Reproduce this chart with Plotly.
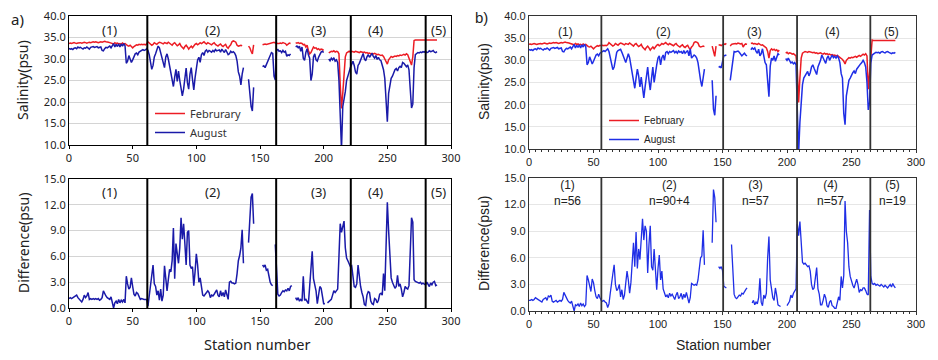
import plotly.graph_objects as go

N = None

# ---------------- panel a) ----------------
feb_a = [
    33.6,33.7,33.6,33.7,33.8,33.7,33.6,33.7,33.8,33.8,
    33.7,33.8,33.9,33.8,33.7,33.8,33.9,33.8,33.9,34.0,
    33.9,34.0,33.9,33.8,33.9,34.0,33.9,34.0,34.1,34.0,
    34.0,33.9,33.8,33.7,33.6,33.5,33.8,33.6,33.7,33.5,
    33.6,33.4,33.7,33.5,33.6,33.3,33.1,33.0,33.2,32.9,
    32.6,32.9,33.2,33.3,33.2,33.4,33.3,33.4,33.3,33.4,
    33.3,33.5,34.0,33.8,33.5,33.2,33.4,33.8,33.6,33.4,
    33.7,33.9,33.8,33.6,33.5,33.8,33.7,33.6,33.9,33.7,
    33.5,33.2,33.6,33.8,33.4,33.1,33.3,33.6,33.0,32.6,
    32.4,32.9,33.2,32.8,32.3,32.7,33.0,32.6,33.1,33.4,
    33.6,33.3,33.5,33.8,33.6,33.9,34.0,33.7,33.5,33.8,
    33.6,33.5,33.3,33.6,33.8,33.4,33.2,33.0,33.3,33.5,
    33.1,32.9,33.2,33.4,32.8,32.5,33.0,33.3,34.0,34.2,
    34.1,33.9,33.2,33.0,33.1,33.2,33.1,N,N,N,
    N,33.0,32.6,31.8,31.2,33.3,N,N,N,N,
    N,N,33.3,33.4,33.5,33.4,33.5,33.6,33.7,33.8,
    33.8,33.9,33.7,33.6,33.6,33.6,33.7,33.6,33.8,33.7,
    33.6,33.2,33.5,33.7,33.6,N,N,N,33.8,33.7,
    33.8,33.6,33.7,33.6,33.3,33.4,32.8,33.2,32.0,31.2,
    31.5,32.4,32.8,32.5,32.6,32.2,32.4,32.1,32.3,32.2,
    32.0,N,N,N,31.4,31.6,31.8,31.7,31.9,31.6,
    31.8,31.7,31.2,24.0,18.5,22.0,27.5,30.5,31.4,31.7,
    31.8,31.6,31.8,31.7,31.6,31.8,31.7,31.6,31.5,31.7,
    31.6,31.5,31.6,31.4,31.5,31.3,31.4,31.2,31.3,31.2,
    31.3,31.1,31.0,31.1,31.0,30.8,30.9,30.6,30.0,29.5,
    28.8,29.8,30.3,30.6,30.4,30.5,30.7,30.6,30.8,30.7,
    30.9,30.8,31.0,31.1,30.9,31.2,31.0,30.2,29.0,28.6,
    30.5,34.3,34.4,34.4,34.4,34.4,34.4,34.4,34.4,34.4,
    34.4,34.4,34.4,34.4,34.4,34.4,34.4,34.4,34.4,34.4,
]
aug_a = [
    32.5,32.3,32.4,32.2,32.5,32.6,32.4,32.8,32.6,32.7,
    32.5,32.3,32.6,32.5,32.8,32.6,32.3,32.7,32.8,32.9,
    32.7,32.8,32.9,32.6,32.7,32.8,32.0,31.9,32.4,32.7,
    32.6,32.9,33.0,32.6,33.2,33.6,32.8,33.4,32.9,33.5,
    32.8,33.5,33.0,33.6,33.1,29.0,29.5,30.8,30.0,29.2,
    29.8,30.6,31.2,31.4,31.0,31.6,31.8,31.9,32.2,32.0,
    32.1,32.4,32.0,31.0,29.5,27.6,28.5,30.5,31.2,32.0,
    33.0,32.6,31.5,30.4,29.0,28.0,30.5,31.2,30.0,28.2,
    27.0,25.5,23.6,25.8,27.6,24.8,27.2,25.0,22.5,21.4,
    23.0,25.8,27.9,24.5,23.0,26.5,28.0,25.2,22.8,25.6,
    28.5,29.8,30.4,29.2,31.0,31.5,30.8,31.8,32.1,31.6,
    32.0,31.8,31.6,32.0,31.7,32.2,31.9,32.0,32.1,31.6,
    32.3,31.9,31.5,32.2,31.4,31.0,31.2,31.8,31.5,31.7,
    31.4,30.8,29.5,27.0,26.0,24.0,26.5,28.0,N,N,
    N,25.3,22.5,19.0,17.9,23.4,N,N,N,N,
    N,N,28.2,28.4,28.0,28.8,29.4,30.2,31.2,31.5,
    31.3,26.0,25.1,32.0,32.2,31.8,31.9,31.5,32.0,31.6,
    31.8,30.6,31.0,30.8,31.2,N,N,N,32.8,33.0,
    32.6,33.0,31.8,32.8,30.2,29.7,31.5,32.4,31.0,30.2,
    25.0,26.5,30.5,31.2,29.8,29.5,30.4,31.0,31.6,31.8,
    31.5,N,N,N,30.0,29.6,30.2,29.8,30.3,29.5,
    29.8,29.2,25.0,18.0,9.0,18.9,20.5,22.4,25.0,26.3,
    27.0,28.0,29.0,29.5,28.5,27.0,26.5,28.5,29.0,29.8,
    30.2,31.3,30.0,29.6,30.5,31.0,30.4,30.8,31.3,30.6,
    30.2,30.8,29.9,30.4,29.8,29.6,28.5,27.5,25.5,21.0,
    15.4,22.0,24.0,25.5,26.0,27.0,27.5,27.8,27.2,28.0,
    28.3,28.0,29.2,29.0,28.5,28.2,28.6,27.5,23.0,18.6,
    19.5,28.0,31.0,31.3,31.5,31.4,31.6,31.5,31.7,31.6,
    31.8,31.5,31.6,31.9,31.7,31.8,32.0,31.6,31.5,31.7,
]
diff_a = [
    1.1,1.2,1.1,1.2,1.3,1.4,1.5,1.2,1.0,0.9,
    0.7,1.0,1.5,1.2,1.4,1.8,1.0,1.1,1.0,1.1,
    1.0,1.1,1.0,1.1,0.9,1.0,1.2,2.0,1.6,1.4,
    1.2,1.1,1.0,1.3,0.5,0.0,0.6,0.8,0.5,1.0,
    0.6,0.9,0.7,1.0,0.6,3.7,2.8,2.2,2.4,3.5,
    2.5,1.6,1.4,1.8,1.7,1.2,1.0,1.1,1.0,1.0,
    1.0,1.0,0.2,1.5,3.0,4.3,5.0,2.8,2.5,1.5,
    2.0,0.9,2.2,0.8,1.5,4.9,3.5,2.0,3.3,4.5,
    4.2,5.5,9.3,3.4,7.5,6.0,5.2,7.0,10.5,8.0,
    9.8,7.5,5.0,8.8,9.0,5.0,4.6,4.8,2.6,4.2,
    6.3,5.0,3.0,3.5,2.2,1.5,1.4,1.6,1.8,2.0,
    1.8,1.2,1.5,1.4,1.6,1.8,2.1,1.5,1.3,2.0,
    1.4,1.8,1.3,2.1,1.6,1.0,3.0,3.1,2.9,2.9,
    2.8,2.9,4.0,5.5,6.1,7.0,9.1,5.2,N,N,
    N,7.6,10.0,12.9,13.3,9.8,N,N,N,N,
    N,N,5.0,4.8,5.0,4.4,4.5,3.5,3.0,2.7,
    2.6,N,7.4,4.0,1.6,1.4,1.5,1.8,2.0,1.9,
    2.1,2.0,2.3,2.0,2.5,2.6,N,N,1.2,0.9,
    1.2,0.8,1.0,0.8,3.7,0.9,1.0,0.7,0.5,2.5,
    4.5,6.6,3.4,2.7,2.0,0.5,1.5,2.5,2.3,1.2,
    0.5,0.5,N,0.6,0.7,0.9,1.0,1.5,2.0,1.8,
    2.0,2.2,6.0,9.8,8.8,9.6,10.1,7.0,5.8,5.5,
    5.2,4.8,4.9,3.8,2.5,2.4,2.8,5.0,3.5,2.5,
    1.8,1.3,0.4,0.3,1.5,1.9,1.8,0.8,0.5,0.4,
    1.1,1.0,0.6,0.9,1.6,1.7,1.5,4.0,2.0,7.0,
    12.3,9.0,6.0,3.5,3.0,2.6,2.3,2.5,3.8,2.5,
    2.8,2.2,1.3,1.8,2.5,2.3,2.2,2.6,7.0,10.5,
    10.0,3.3,3.1,3.0,3.0,2.9,3.0,2.8,2.9,2.8,
    2.7,3.0,2.8,2.5,2.9,2.7,3.0,3.1,2.6,2.7,
]
bounds_a = [61.5, 162.7, 221.3, 280.1]
region_x_a = [32, 113, 196, 241, 290]
region_labels_a = ["(1)", "(2)", "(3)", "(4)", "(5)"]

# ---------------- panel b) ----------------
feb_b = feb_a[:130] + [
    34.1,33.9,33.2,33.0,33.1,33.2,33.1,N,N,N,
    N,N,33.2,31.8,30.9,33.2,N,33.4,33.5,33.3,
    33.6,33.7,33.6,33.8,N,N,33.2,33.6,33.7,33.8,
    33.8,33.7,33.9,33.8,33.7,33.8,33.0,33.5,33.7,33.6,
    N,N,33.8,33.9,33.7,33.8,33.7,33.6,33.8,33.6,
    33.4,33.5,33.3,33.0,32.8,32.0,30.5,32.2,32.6,32.3,
    32.5,32.2,32.4,32.0,32.3,N,N,N,N,31.6,
    31.8,31.5,31.7,31.6,31.4,31.5,31.2,31.0,28.0,20.5,
    26.0,30.5,31.6,31.8,32.0,31.9,31.8,32.0,31.9,31.8,
    31.7,31.8,31.6,31.7,31.5,31.6,31.7,31.5,31.4,31.6,
    31.4,31.5,31.3,31.4,31.2,31.3,31.1,31.2,31.0,31.1,
    30.9,30.8,30.6,30.2,29.8,29.2,30.0,30.4,30.6,30.5,
    30.7,30.6,30.8,30.9,30.7,31.0,31.1,30.9,31.2,31.4,
    31.2,31.5,31.0,23.5,27.0,30.0,34.6,34.5,34.5,34.5,
    34.5,34.5,34.5,34.5,34.5,34.5,34.5,34.5,34.5,34.5,
    34.5,34.5,34.5,34.5,34.5,
]
aug_b = aug_a[:60] + [
    32.4,32.6,32.0,30.5,29.0,27.9,28.5,30.8,31.8,32.2,
    32.4,32.5,31.8,31.0,30.0,29.5,30.5,31.5,30.6,29.0,
    26.5,25.5,23.7,26.0,28.0,26.5,24.0,26.2,23.0,21.5,
    24.0,27.0,28.5,25.5,23.3,26.0,28.5,25.0,27.5,29.0,
    30.5,31.0,29.0,30.6,31.2,30.0,31.8,32.0,31.5,32.0,
    31.8,32.0,32.2,31.7,32.0,31.6,32.1,31.8,32.0,31.5,
    32.2,31.6,31.9,32.2,31.0,32.6,30.5,30.8,31.2,31.0,
    30.5,29.5,27.0,25.5,24.1,26.5,28.0,N,N,N,
    N,N,25.5,19.0,17.6,22.0,N,28.4,28.6,28.3,
    29.5,31.0,31.1,31.2,N,N,25.5,28.0,30.5,32.0,
    31.9,32.0,32.1,31.8,31.5,31.0,31.3,31.6,31.2,31.0,
    N,N,32.4,32.8,32.5,32.8,32.0,31.6,32.5,31.0,
    31.5,32.6,31.0,29.5,29.0,25.0,21.8,28.7,30.5,30.0,
    31.0,29.8,30.5,31.5,31.2,N,N,N,N,30.4,
    30.0,30.5,29.8,29.4,29.6,29.2,29.5,29.0,18.8,9.0,
    16.0,20.5,24.5,26.0,26.5,26.8,27.5,26.5,27.2,28.5,
    29.0,28.2,27.5,26.8,28.5,29.2,30.0,31.2,30.5,29.8,
    29.3,30.5,31.0,30.0,30.8,31.2,30.6,30.9,30.5,31.0,
    30.5,29.5,27.0,26.0,18.0,15.5,22.0,24.0,25.5,26.0,
    26.8,27.2,27.6,27.0,28.0,28.5,28.8,29.2,29.5,30.0,
    29.5,28.5,25.0,18.8,20.5,29.5,31.2,31.5,31.6,31.8,
    31.7,31.8,31.6,31.9,32.0,31.8,31.7,31.9,32.0,31.8,
    31.6,31.5,31.7,31.6,31.8,
]
diff_b = [
    1.2,1.2,1.3,1.2,1.3,1.5,1.4,1.3,1.2,1.1,
    1.0,1.3,1.4,1.5,1.2,1.7,1.6,1.8,1.1,1.0,
    1.1,1.2,1.0,1.1,1.2,1.1,1.3,2.1,1.8,1.4,
    1.2,1.0,0.9,1.1,0.6,0.0,0.7,0.6,0.8,0.5,
    0.9,0.6,0.8,0.5,0.7,4.0,3.5,2.6,2.2,3.6,
    3.2,2.3,1.6,1.4,1.9,1.5,1.2,1.1,1.2,1.0,
    0.9,0.4,0.8,2.0,3.5,4.2,5.2,3.0,2.3,2.5,
    3.0,1.6,2.4,1.3,1.8,3.0,4.5,3.5,2.0,3.2,
    5.5,7.7,5.0,8.9,4.8,7.0,5.8,8.0,10.4,8.0,
    9.6,9.0,4.3,7.5,9.6,5.0,4.6,7.0,4.0,2.4,
    4.8,6.3,3.5,4.5,2.5,1.9,1.6,1.8,1.5,2.0,
    1.7,1.9,1.5,1.3,1.8,2.1,1.4,1.6,2.0,1.3,
    1.9,1.5,2.1,1.4,0.9,1.5,3.1,3.0,2.9,3.0,
    2.9,3.5,5.0,6.0,6.2,9.1,5.2,N,N,N,
    N,N,7.7,13.7,12.8,10.0,N,5.0,4.8,5.0,
    4.6,2.8,2.7,2.6,N,N,N,7.5,3.9,1.9,
    1.5,1.4,1.6,1.8,1.7,2.0,1.9,2.2,2.4,2.6,
    N,N,N,0.9,1.2,0.7,1.0,0.8,1.5,3.7,
    1.0,0.6,1.8,1.4,2.0,6.0,8.4,3.5,2.5,1.5,
    1.2,2.6,1.8,0.7,0.6,0.5,N,N,N,N,
    0.6,0.9,1.1,1.8,1.5,2.0,2.2,2.5,9.8,8.5,
    10.1,7.0,5.5,5.3,5.4,5.2,5.0,5.1,4.5,3.0,
    2.4,2.6,3.5,4.9,2.5,1.9,0.7,0.7,1.2,1.9,
    1.5,0.6,0.4,1.0,1.2,0.6,0.5,0.3,0.3,1.0,
    1.6,1.2,3.9,2.6,4.0,12.4,9.0,7.7,5.0,3.9,
    3.3,2.9,2.6,3.0,3.6,3.0,2.1,2.4,2.3,2.6,
    2.6,2.3,1.9,1.8,11.4,3.9,3.1,3.0,3.1,2.9,
    3.0,2.9,2.8,3.0,2.9,2.7,2.9,2.8,2.6,2.8,
    3.0,2.7,3.1,2.8,2.6,
]
bounds_b = [56.1, 150.5, 207.8, 264.6]
region_x_b_top = [28, 104, 175, 235, 281]
region_x_b_bot = [29.5, 108.6, 175.6, 234, 282]
region_labels_b = ["(1)", "(2)", "(3)", "(4)", "(5)"]
region_n_b = ["n=56", "n=90+4", "n=57", "n=57", "n=19"]

RED = "#ec1c24"
BLUE_A = "#1a1aa8"
BLUE_B = "#1f2ee6"
FONT_A = "Noto Sans"
FONT_B = "Liberation Sans"

W, H = 938, 360
OFF = 8  # page body margin of the browser
def px_x(a, b): return [(a - OFF) / W, (b - OFF) / W]
def px_y(top, bot): return [1 - (bot - OFF) / H, 1 - (top - OFF) / H]

fig = go.Figure()
def st(arr): return list(range(len(arr)))

fig.add_trace(go.Scatter(x=st(feb_a), y=feb_a, mode="lines", name="Februrary",
                         line=dict(color=RED, width=1.5), xaxis="x", yaxis="y", legend="legend"))
fig.add_trace(go.Scatter(x=st(aug_a), y=aug_a, mode="lines", name="August",
                         line=dict(color=BLUE_A, width=1.5), xaxis="x", yaxis="y", legend="legend"))
fig.add_trace(go.Scatter(x=st(diff_a), y=diff_a, mode="lines", showlegend=False,
                         line=dict(color=BLUE_A, width=1.5), xaxis="x2", yaxis="y2"))
fig.add_trace(go.Scatter(x=st(feb_b), y=feb_b, mode="lines", name="February",
                         line=dict(color=RED, width=1.5), xaxis="x3", yaxis="y3", legend="legend2"))
fig.add_trace(go.Scatter(x=st(aug_b), y=aug_b, mode="lines", name="August",
                         line=dict(color=BLUE_B, width=1.5), xaxis="x3", yaxis="y3", legend="legend2"))
fig.add_trace(go.Scatter(x=st(diff_b), y=diff_b, mode="lines", showlegend=False,
                         line=dict(color=BLUE_B, width=1.3), xaxis="x4", yaxis="y4"))

def xax(dom, anchor, font, minor=False, lc="black"):
    d = dict(domain=dom, anchor=anchor, range=[0, 300], dtick=50, tickformat="d",
             showline=True, mirror=True, linecolor=lc, linewidth=1.2, automargin=False,
             ticks="outside", ticklen=3, tickcolor=lc, showgrid=False, zeroline=False,
             ticklabeloverflow="allow",
             tickfont=dict(family=font, size=11, color="#222"))
    if minor:
        d["minor"] = dict(dtick=5, ticks="outside", ticklen=2, tickcolor=lc)
    return d

def yax(dom, anchor, rng, dt, font, grid, lc="black"):
    return dict(domain=dom, anchor=anchor, range=rng, dtick=dt, tickformat=".1f",
                showline=True, mirror=True, linecolor=lc, linewidth=1.2, automargin=False,
                ticks="", showgrid=True, gridcolor=grid, gridwidth=1, zeroline=False,
                ticklabeloverflow="allow",
                tickfont=dict(family=font, size=11, color="#222"))

xa = px_x(69, 451); xb = px_x(529, 916)
fig.update_layout(
    width=W, height=H, margin=dict(l=0, r=0, t=0, b=0, autoexpand=False),
    paper_bgcolor="white", plot_bgcolor="white", showlegend=True,
    xaxis=xax(xa, "y", FONT_A),
    yaxis=yax(px_y(16, 145), "x", [10, 40], 5, FONT_A, "#d4d4d4"),
    xaxis2=xax(xa, "y2", FONT_A),
    yaxis2=yax(px_y(179, 308), "x2", [0, 15], 3, FONT_A, "#d4d4d4"),
    xaxis3=xax(xb, "y3", FONT_B, minor=True, lc="#333"),
    yaxis3=yax(px_y(16, 149), "x3", [10, 40], 5, FONT_B, "#e6e6e6", lc="#333"),
    xaxis4=xax(xb, "y4", FONT_B, minor=True, lc="#333"),
    yaxis4=yax(px_y(178, 311), "x4", [0, 15], 3, FONT_B, "#e6e6e6", lc="#333"),
    legend=dict(x=(150 - OFF) / W, y=1 - (99 - OFF) / H, xanchor="left", yanchor="top",
                bgcolor="rgba(0,0,0,0)", font=dict(family=FONT_A, size=11, color="#333"),
                itemwidth=30, tracegroupgap=0),
    legend2=dict(x=(604 - OFF) / W, y=1 - (106 - OFF) / H, xanchor="left", yanchor="top",
                 bgcolor="rgba(0,0,0,0)", font=dict(family=FONT_B, size=10, color="#222"),
                 itemwidth=30, tracegroupgap=0),
)

shapes = []
for b in bounds_a:
    for xr, yr in (("x", "y domain"), ("x2", "y2 domain")):
        shapes.append(dict(type="line", xref=xr, yref=yr, x0=b, x1=b, y0=0, y1=1,
                           line=dict(color="black", width=2)))
for b in bounds_b:
    for xr, yr in (("x3", "y3 domain"), ("x4", "y4 domain")):
        shapes.append(dict(type="line", xref=xr, yref=yr, x0=b, x1=b, y0=0, y1=1,
                           line=dict(color="#333", width=1.8)))
fig.update_layout(shapes=shapes)

ann = []
def dtxt(x, y, xr, yr, text, font, size):
    return dict(x=x, y=y, xref=xr, yref=yr, text=text, showarrow=False,
                xanchor="center", yanchor="middle",
                font=dict(family=font, size=size, color="#222"))

for xv, lab in zip(region_x_a, region_labels_a):
    ann.append(dtxt(xv, 0.89, "x", "y domain", lab, FONT_A, 13))
    ann.append(dtxt(xv, 0.90, "x2", "y2 domain", lab, FONT_A, 13))
for xv, lab in zip(region_x_b_top, region_labels_b):
    ann.append(dtxt(xv, 0.88, "x3", "y3 domain", lab, FONT_B, 12))
for xv, lab, n in zip(region_x_b_bot, region_labels_b, region_n_b):
    ann.append(dtxt(xv, 0.885, "x4", "y4 domain", lab + "<br>" + n, FONT_B, 12))

def ptxt(x, y, text, font, size, angle=0):
    return dict(x=(x - OFF) / W, y=1 - (y - OFF) / H, xref="paper", yref="paper", text=text,
                showarrow=False, textangle=angle, xanchor="center", yanchor="middle",
                font=dict(family=font, size=size, color="#222"))

ann += [
    ptxt(17, 19, "a)", FONT_A, 15),
    ptxt(481, 17, "b)", FONT_B, 15),
    ptxt(23, 80, "Salinity(psu)", FONT_A, 14, -90),
    ptxt(23, 243, "Difference(psu)", FONT_A, 14, -90),
    ptxt(257, 344, "Station number", FONT_A, 14.5),
    ptxt(484, 82, "Salinity(psu)", FONT_B, 14, -90),
    ptxt(484, 244, "Difference(psu)", FONT_B, 14, -90),
    ptxt(723, 345, "Station number", FONT_B, 14),
]
fig.update_layout(annotations=ann)

fig.write_html("out.html")
